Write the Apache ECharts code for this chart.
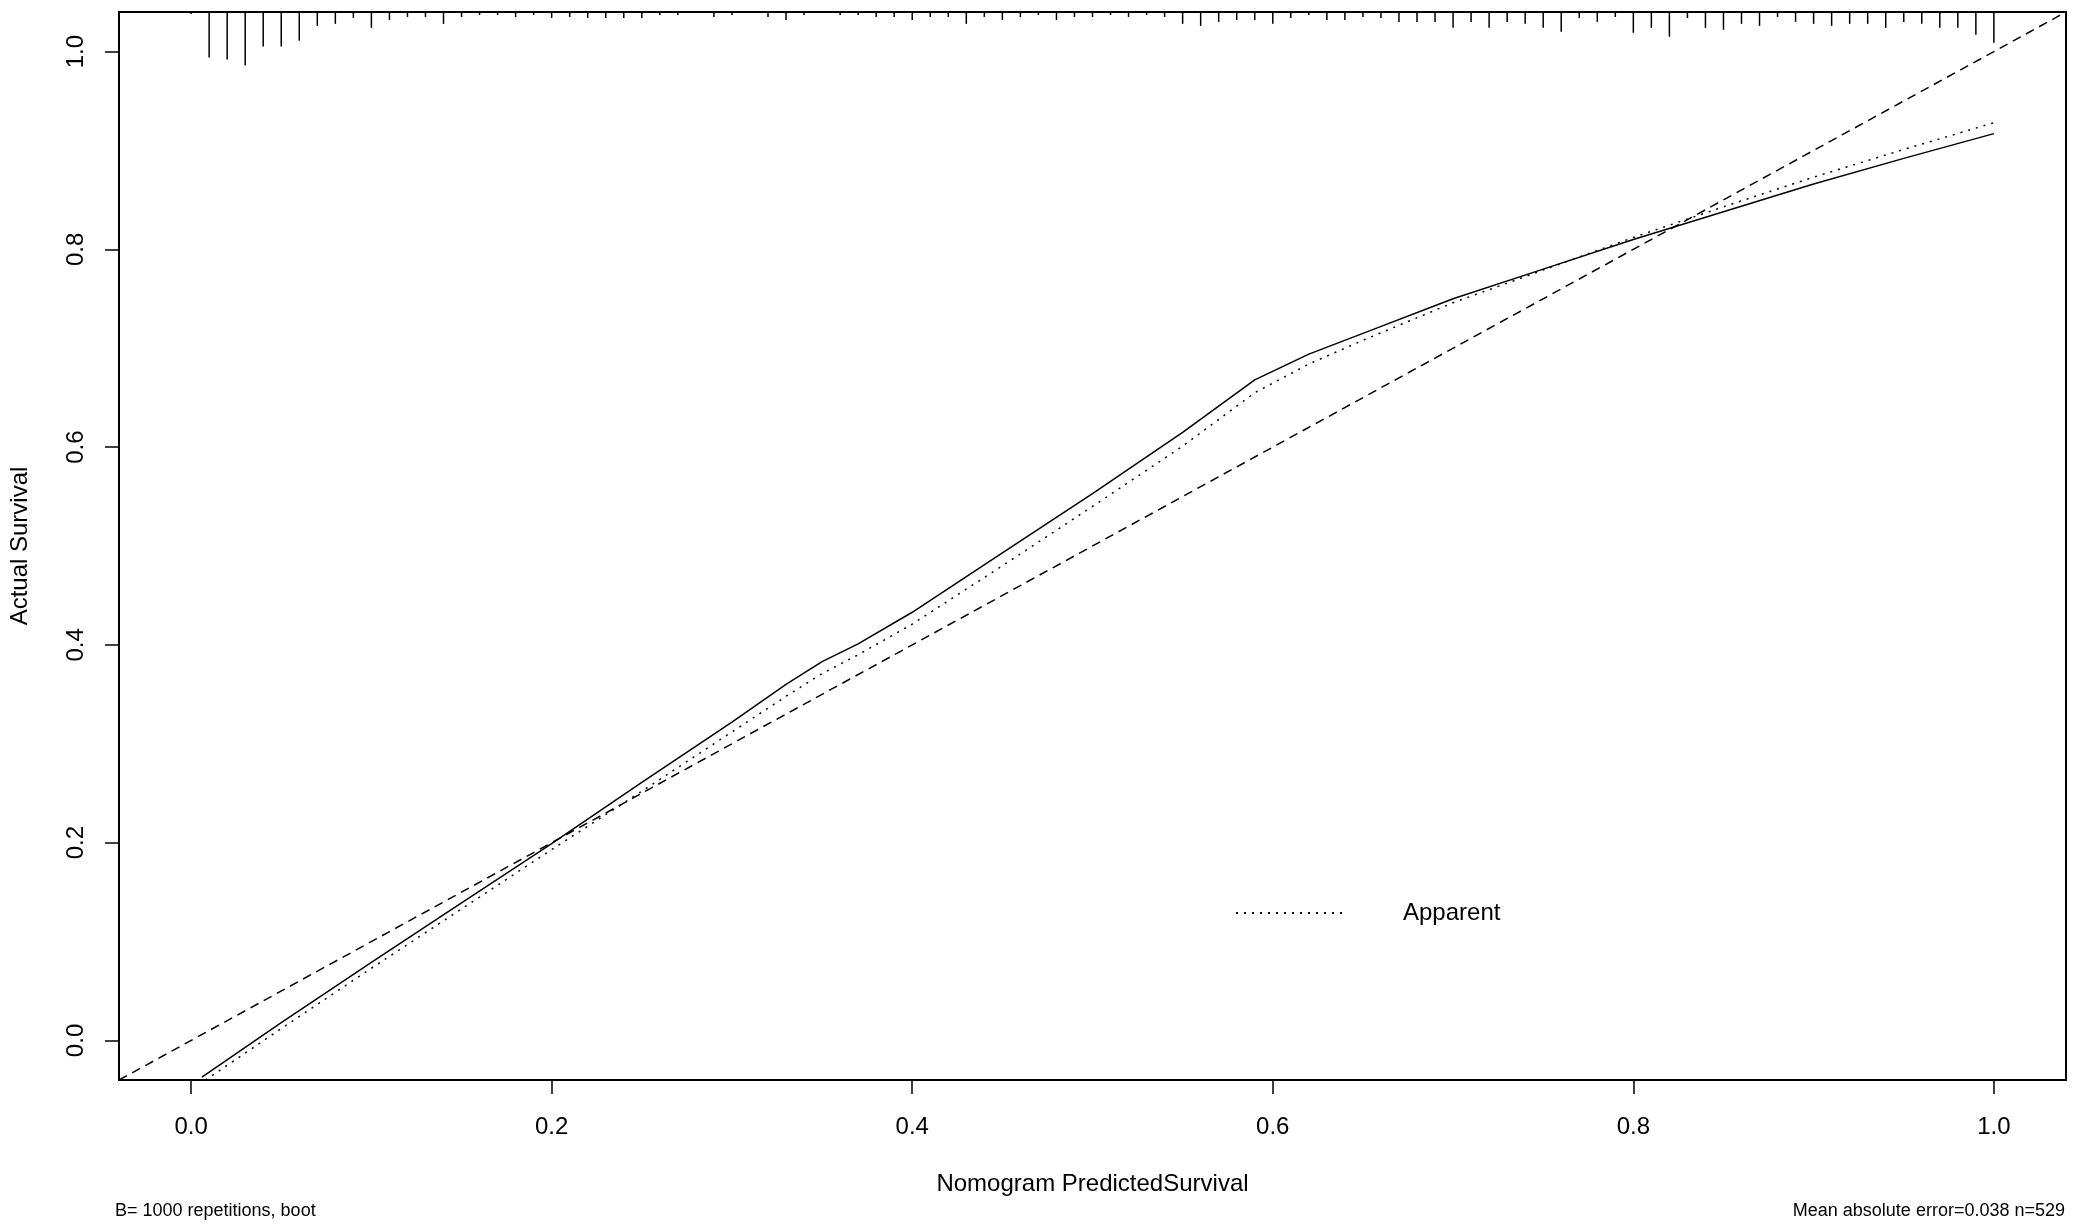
<!DOCTYPE html>
<html>
<head>
<meta charset="utf-8">
<script src="https://cdn.jsdelivr.net/npm/echarts@6/dist/echarts.min.js"></script>
<style>
html,body{margin:0;padding:0;background:#fff;}
#chart{width:2073px;height:1225px;}
</style>
</head>
<body>
<div id="chart"></div>
<script>
// ---- data ----
const xTickValues = [0.0, 0.2, 0.4, 0.6, 0.8, 1.0];
const yTickValues = [0.0, 0.2, 0.4, 0.6, 0.8, 1.0];
const axisMin = -0.04;
const axisMax = 1.04;

// Bias-corrected (solid)
const biasX = [0.006, 0.05, 0.10, 0.15, 0.20, 0.25, 0.30, 0.33, 0.35, 0.37, 0.40, 0.45, 0.50, 0.55, 0.59, 0.62, 0.65, 0.70, 0.75, 0.80, 0.85, 0.90, 0.95, 1.00];
const biasY = [-0.037, 0.018, 0.079, 0.139, 0.199, 0.261, 0.322, 0.360, 0.383, 0.401, 0.433, 0.493, 0.553, 0.615, 0.668, 0.694, 0.715, 0.750, 0.780, 0.810, 0.838, 0.866, 0.892, 0.917];

// Apparent (dotted)
const appX = [0.008, 0.05, 0.10, 0.15, 0.20, 0.25, 0.30, 0.33, 0.35, 0.37, 0.40, 0.45, 0.50, 0.55, 0.59, 0.62, 0.65, 0.70, 0.75, 0.80, 0.85, 0.90, 0.95, 1.00];
const appY = [-0.040, 0.012, 0.073, 0.133, 0.193, 0.252, 0.312, 0.348, 0.371, 0.390, 0.421, 0.480, 0.540, 0.601, 0.655, 0.684, 0.708, 0.746, 0.779, 0.812, 0.843, 0.873, 0.901, 0.928];

// Ideal line
const idealX = [-0.04, 1.04];
const idealY = [-0.04, 1.04];

// Distribution of predicted risk (spike histogram at top)
const riskX = [0.00,0.01,0.02,0.03,0.04,0.05,0.06,0.07,0.08,0.09,0.10,0.11,0.12,0.13,0.14,0.15,0.16,0.17,0.18,0.19,0.20,0.21,0.22,0.23,0.24,0.25,0.26,0.27,0.29,0.30,0.32,0.33,0.34,0.36,0.37,0.38,0.39,0.40,0.41,0.42,0.43,0.44,0.45,0.46,0.47,0.48,0.49,0.50,0.51,0.52,0.53,0.54,0.55,0.56,0.57,0.58,0.59,0.60,0.61,0.62,0.63,0.64,0.65,0.66,0.67,0.68,0.69,0.70,0.71,0.72,0.73,0.74,0.75,0.76,0.77,0.78,0.79,0.80,0.81,0.82,0.83,0.84,0.85,0.86,0.87,0.88,0.89,0.90,0.91,0.92,0.93,0.94,0.95,0.96,0.97,0.98,0.99,1.00];
const riskFreq = [2,46,48,54,35,35,29,14,12,6,16,8,5,5,12,5,3,3,5,3,6,5,6,6,6,6,3,3,5,3,5,8,3,3,3,5,5,8,5,5,12,5,8,5,3,8,5,5,3,5,3,5,12,14,10,8,8,12,6,3,8,8,5,6,10,10,10,16,10,16,10,12,16,20,6,10,5,21,16,25,6,16,18,12,14,5,10,12,14,12,12,16,10,12,16,16,23,31];

const xAxisTitle = 'Nomogram PredictedSurvival';
const yAxisTitle = 'Actual Survival';
const legendLabel = 'Apparent';
const footLeft = 'B= 1000 repetitions, boot';
const footRight = 'Mean absolute error=0.038 n=529';

// ---- chart ----
const FONT = '"Liberation Sans", Arial, Helvetica, sans-serif';
const chart = echarts.init(document.getElementById('chart'), null, {renderer: 'canvas'});
const maxFreq = Math.max.apply(null, riskFreq);
const spikeFrac = 0.05 * (axisMax - axisMin);

const option = {
  animation: false,
  backgroundColor: '#fff',
  textStyle: {fontFamily: FONT, color: '#000'},
  grid: {left: 115, right: 7, top: 12, bottom: 145, show: true, borderColor: '#000', borderWidth: 2, backgroundColor: 'transparent'},
  xAxis: {
    type: 'value', min: axisMin, max: axisMax,
    axisLine: {show: true, onZero: false, lineStyle: {color: '#000', width: 2}},
    splitLine: {show: false},
    axisTick: {show: true, customValues: xTickValues, length: 14, lineStyle: {color: '#000', width: 1.5}},
    axisLabel: {customValues: xTickValues, formatter: v => v.toFixed(1), margin: 35, fontSize: 24, color: '#000', fontFamily: FONT},
    name: xAxisTitle, nameLocation: 'middle', nameGap: 92,
    nameTextStyle: {fontSize: 24, color: '#000', fontFamily: FONT}
  },
  yAxis: {
    type: 'value', min: axisMin, max: axisMax,
    axisLine: {show: true, onZero: false, lineStyle: {color: '#000', width: 2}},
    splitLine: {show: false},
    axisTick: {show: true, customValues: yTickValues, length: 14, lineStyle: {color: '#000', width: 1.5}},
    axisLabel: {customValues: yTickValues, formatter: v => v.toFixed(1), rotate: 90, margin: 31, fontSize: 24, color: '#000', fontFamily: FONT},
    name: yAxisTitle, nameLocation: 'middle', nameGap: 87, nameRotate: 90,
    nameTextStyle: {fontSize: 24, color: '#000', fontFamily: FONT}
  },
  legend: {
    data: [legendLabel], left: 1235, top: 901, padding: 0,
    itemWidth: 112, itemHeight: 24, selectedMode: false,
    itemStyle: {opacity: 0},
    textStyle: {fontSize: 24, color: '#000', fontFamily: FONT, padding: [0, 0, 0, 50]}
  },
  graphic: [
    {type: 'text', left: 115, top: 1202, style: {text: footLeft, fontSize: 18, fill: '#000', fontFamily: FONT}},
    {type: 'text', right: 8, top: 1202, style: {text: footRight, fontSize: 18, fill: '#000', fontFamily: FONT}}
  ],
  series: [
    {
      name: 'Ideal', type: 'line', symbol: 'none', silent: true,
      data: idealX.map((x, i) => [x, idealY[i]]),
      lineStyle: {color: '#000', width: 1.5, type: [9, 6]}, z: 2
    },
    {
      name: 'Bias-corrected', type: 'line', symbol: 'none', silent: true,
      data: biasX.map((x, i) => [x, biasY[i]]),
      lineStyle: {color: '#000', width: 1.5, type: 'solid'}, z: 3
    },
    {
      name: legendLabel, type: 'line', symbol: 'none', silent: true,
      data: appX.map((x, i) => [x, appY[i]]),
      lineStyle: {color: '#000', width: 1.5, type: [2, 6]}, itemStyle: {color: '#000'}, z: 3
    },
    {
      name: 'Risk distribution', type: 'custom', silent: true, clip: false,
      data: riskX.map((x, i) => [x, riskFreq[i]]),
      renderItem: function (params, api) {
        const x = api.value(0), f = api.value(1);
        const p1 = api.coord([x, axisMax]);
        const p2 = api.coord([x, axisMax - f / maxFreq * spikeFrac]);
        return {type: 'line', shape: {x1: p1[0], y1: p1[1], x2: p2[0], y2: p2[1]}, style: {stroke: '#000', lineWidth: 1.5}};
      },
      z: 4
    }
  ]
};
chart.setOption(option);
</script>
</body>
</html>
